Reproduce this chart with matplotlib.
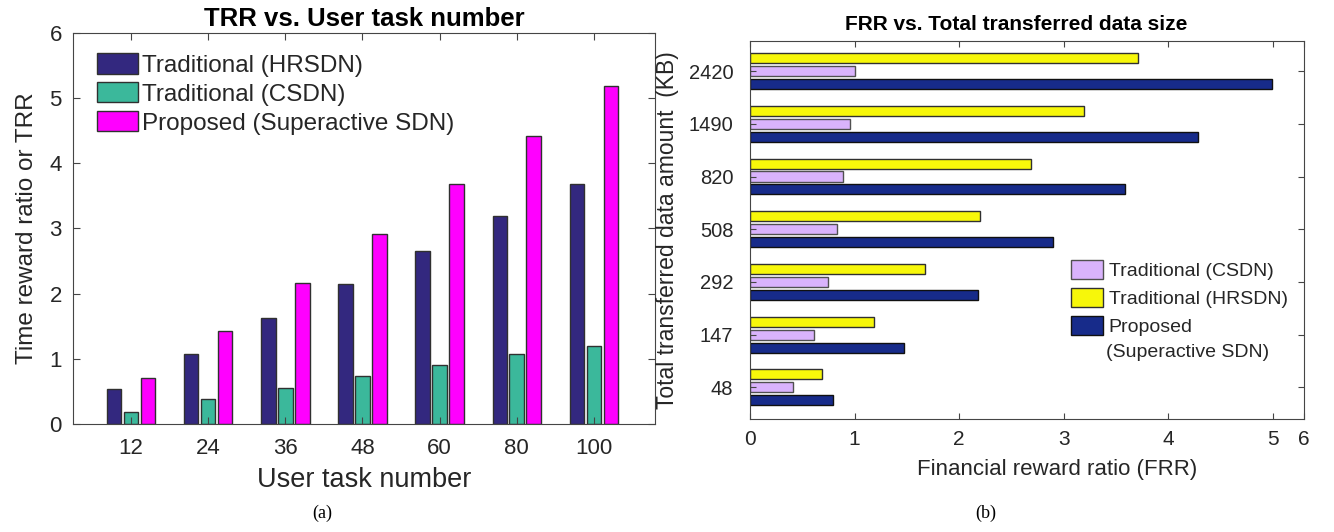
import numpy as np
import matplotlib.pyplot as plt

plt.rcParams['font.family'] = ['Liberation Sans', 'DejaVu Sans']

# (a) TRR vs. user task number
tasks = ['12', '24', '36', '48', '60', '80', '100']
trr_hrsdn = [0.53, 1.07, 1.62, 2.15, 2.66, 3.19, 3.68]
trr_csdn = [0.19, 0.38, 0.56, 0.74, 0.90, 1.07, 1.20]
trr_proposed = [0.71, 1.42, 2.17, 2.92, 3.68, 4.42, 5.18]

# (b) FRR vs. total transferred data size
sizes = ['48', '147', '292', '508', '820', '1490', '2420']
frr_csdn = [0.41, 0.61, 0.75, 0.83, 0.89, 0.96, 1.00]
frr_hrsdn = [0.69, 1.19, 1.67, 2.20, 2.69, 3.20, 3.71]
frr_proposed = [0.79, 1.47, 2.18, 2.90, 3.59, 4.29, 4.99]

txt = '#262626'
spine = '#454545'
edge = '#303030'

fig = plt.figure(figsize=(13.34, 5.32), dpi=100)

# ---- left panel
ax1 = fig.add_axes([0.0547, 0.203, 0.4363, 0.735])
x = np.arange(1, len(tasks) + 1)
w, step = 0.19, 0.22
ax1.bar(x - step, trr_hrsdn, w, color='#33287F', edgecolor=edge, lw=1, label='Traditional (HRSDN)')
ax1.bar(x, trr_csdn, w, color='#3BB89B', edgecolor=edge, lw=1, label='Traditional (CSDN)')
ax1.bar(x + step, trr_proposed, w, color='#FF00FF', edgecolor=edge, lw=1, label='Proposed (Superactive SDN)')
ax1.set_xlim(0.25, 7.79)
ax1.set_ylim(0, 6)
ax1.set_xticks(x)
ax1.set_xticklabels(tasks)
ax1.set_yticks(range(7))
ax1.tick_params(direction='in', top=True, right=True, length=5, width=0.8,
                color=spine, labelsize=16, labelcolor=txt, pad=10)
ax1.tick_params(axis='y', pad=8)
ax1.set_xlabel('User task number', fontsize=19.5, color=txt, labelpad=6)
ax1.set_ylabel('Time reward ratio or TRR', fontsize=17.5, color=txt, labelpad=8)
ax1.set_title('TRR vs. User task number', fontsize=18.5, fontweight='bold', color='black', pad=5)
for s in ax1.spines.values():
    s.set_color(spine)
ax1.legend(loc='upper left', bbox_to_anchor=(0.016, 0.985), frameon=False, fontsize=17.5,
           handlelength=1.7, handleheight=0.9, handletextpad=0.15, labelspacing=0.22,
           borderaxespad=0.2, labelcolor=txt)

# ---- right panel
ax2 = fig.add_axes([0.5622, 0.2124, 0.4153, 0.7105])
y = np.arange(len(sizes))
h, gap = 0.19, 0.245
ax2.barh(y, frr_csdn, h, color='#D9B3FC', edgecolor='#505050', lw=1, label='Traditional (CSDN)')
ax2.barh(y + gap, frr_hrsdn, h, color='#F7F70A', edgecolor=edge, lw=1, label='Traditional (HRSDN)')
ax2.barh(y - gap, frr_proposed, h, color='#172B8A', edgecolor='#101010', lw=1, label='Proposed')
ax2.set_xlim(0, 5.3)
ax2.set_ylim(-0.6, 6.57)
ax2.set_xticks([0, 1, 2, 3, 4, 5, 5.3])
ax2.set_xticklabels(['0', '1', '2', '3', '4', '5', '6'])
ax2.set_yticks(y)
ax2.set_yticklabels(sizes)
ax2.tick_params(direction='in', top=True, right=True, length=4, width=0.8,
                color=spine, labelsize=14.5, labelcolor=txt, pad=12)
ax2.tick_params(axis='x', labelsize=15, pad=8)
ax2.set_xlabel('Financial reward ratio (FRR)', fontsize=16, color=txt)
ax2.xaxis.set_label_coords(0.554, -0.105)
ax2.set_ylabel('Total transferred data amount  (KB)', fontsize=16.5, color=txt)
ax2.yaxis.set_label_coords(-0.128, 0.5)
ax2.set_title('FRR vs. Total transferred data size', fontsize=15, fontweight='bold', color='black', pad=8)
ax2.title.set_x(0.48)
for s in ax2.spines.values():
    s.set_color(spine)
ax2.legend(loc='upper left', bbox_to_anchor=(0.565, 0.44), frameon=False, fontsize=14,
           handlelength=1.65, handleheight=1.1, handletextpad=0.3, labelspacing=0.4,
           borderaxespad=0.0, labelcolor=txt)
ax2.text(0.643, 0.177, '(Superactive SDN)', transform=ax2.transAxes, fontsize=14,
         color=txt, ha='left', va='center')

fig.text(0.2414, 0.035, '(a)', family='Liberation Serif', fontsize=13, ha='center', va='center')
fig.text(0.739, 0.035, '(b)', family='Liberation Serif', fontsize=13, ha='center', va='center')

fig.savefig('out.png', dpi=100)
